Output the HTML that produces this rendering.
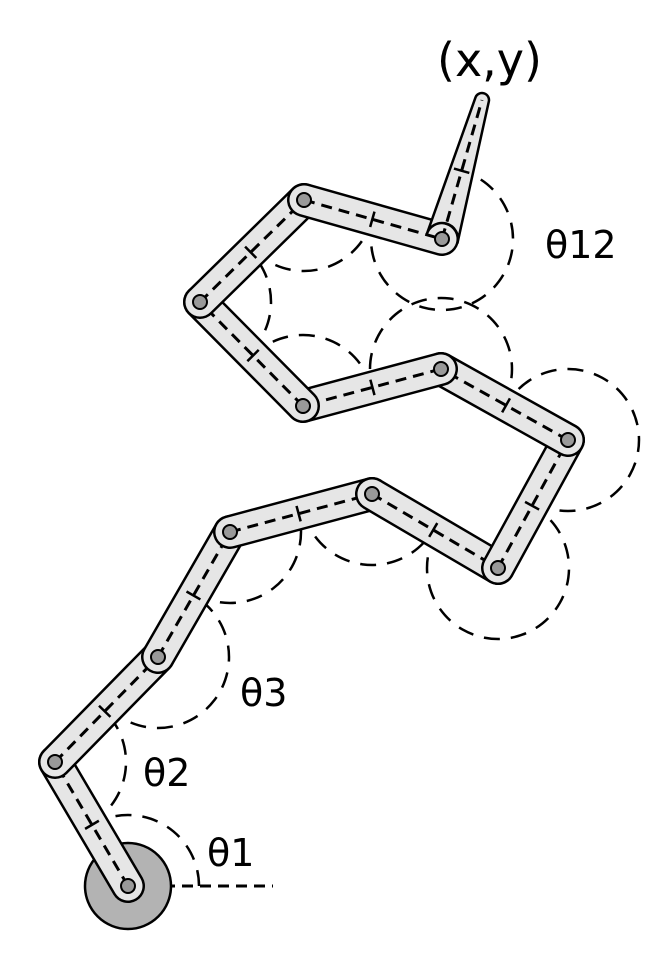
<!DOCTYPE html>
<html><head><meta charset="utf-8"><style>
html,body{margin:0;padding:0;background:#fff;width:672px;height:960px;overflow:hidden}
svg text{font-family:"DejaVu Sans","Liberation Sans",sans-serif;fill:#000}
</style></head><body>
<svg id="arm" width="672" height="960" viewBox="0 0 672 960" xmlns="http://www.w3.org/2000/svg">
<g id="arcs"></g>
<circle cx="128" cy="886" r="43" fill="#b3b3b3" stroke="#000" stroke-width="2.5"/>
<g id="links"></g>
<text x="207" y="866" font-size="38">θ1</text>
<text x="143" y="786" font-size="38">θ2</text>
<text x="240" y="706" font-size="38">θ3</text>
<text x="545" y="258" font-size="38">θ12</text>
<text x="437" y="76" font-size="46">(x,y)</text>
</svg>
<script>
const jointX = [128, 55, 158, 230, 372, 498, 568, 441, 303, 200, 304, 442, 482];
const jointY = [886, 762, 657, 532, 494, 568, 440, 369, 406, 302, 200, 239, 100];
const NS = 'http://www.w3.org/2000/svg';
const R = 71;
const arcsG = document.getElementById('arcs');
const linksG = document.getElementById('links');
function mk(tag, attrs, parent){const e=document.createElementNS(NS,tag);for(const k in attrs)e.setAttribute(k,attrs[k]);parent.appendChild(e);return e;}
function ang(i,j){return Math.atan2(-(jointY[j]-jointY[i]), jointX[j]-jointX[i]);}
const n = jointX.length;
const ref = mk('line',{x1:jointX[0],y1:jointY[0],x2:jointX[0]+145,y2:jointY[0],stroke:'#000','stroke-width':3,'stroke-dasharray':'11 7'},arcsG);


for(let i=0;i<n-1;i++){
  const a0 = i===0 ? 0 : ang(i,i-1);
  const a1 = ang(i,i+1);
  let sweep = a1 - a0; while(sweep<0) sweep += 2*Math.PI; while(sweep>=2*Math.PI) sweep -= 2*Math.PI;
  const cx=jointX[i], cy=jointY[i];
  const sx=cx+R*Math.cos(a0), sy=cy-R*Math.sin(a0);
  const ex=cx+R*Math.cos(a1), ey=cy-R*Math.sin(a1);
  const p = mk('path',{d:`M${sx},${sy} A${R},${R} 0 ${sweep>Math.PI?1:0} 0 ${ex},${ey}`,fill:'none',stroke:'#000','stroke-width':2.5,'stroke-dasharray':'16 11'},arcsG);
  
  
}
for(let i=0;i<n-1;i++){
  const x1=jointX[i],y1=jointY[i],x2=jointX[i+1],y2=jointY[i+1];
  const g = mk('g',{},linksG);
  
  
  if(i===n-2){
    const dx=x2-x1, dy=y2-y1, L=Math.hypot(dx,dy), nx=-dy/L, ny=dx/L;
    const w0=16, w1=7;
    mk('path',{d:`M${x1+nx*w0},${y1+ny*w0} L${x2+nx*w1},${y2+ny*w1} A${w1},${w1} 0 0 0 ${x2-nx*w1},${y2-ny*w1} L${x1-nx*w0},${y1-ny*w0} A${w0},${w0} 0 0 1 ${x1+nx*w0},${y1+ny*w0} Z`,fill:'#e6e6e6',stroke:'#000','stroke-width':2.5},g);
  } else {
    mk('line',{x1,y1,x2,y2,stroke:'#000','stroke-width':34,'stroke-linecap':'round'},g);
    mk('line',{x1,y1,x2,y2,stroke:'#e6e6e6','stroke-width':29,'stroke-linecap':'round'},g);
  }
  mk('line',{x1,y1,x2,y2,stroke:'#000','stroke-width':3,'stroke-dasharray':'11 7'},g);
  const dx=x2-x1, dy=y2-y1, L=Math.hypot(dx,dy), ux=dx/L, uy=dy/L;
  const tx=x1+ux*R, ty=y1+uy*R;
  mk('line',{x1:tx-uy*8,y1:ty+ux*8,x2:tx+uy*8,y2:ty-ux*8,stroke:'#000','stroke-width':2.5},g);
  const pin = mk('circle',{cx:x1,cy:y1,r:7,fill:'#999',stroke:'#000','stroke-width':2},g);
  
  
}
</script>
</body></html>
